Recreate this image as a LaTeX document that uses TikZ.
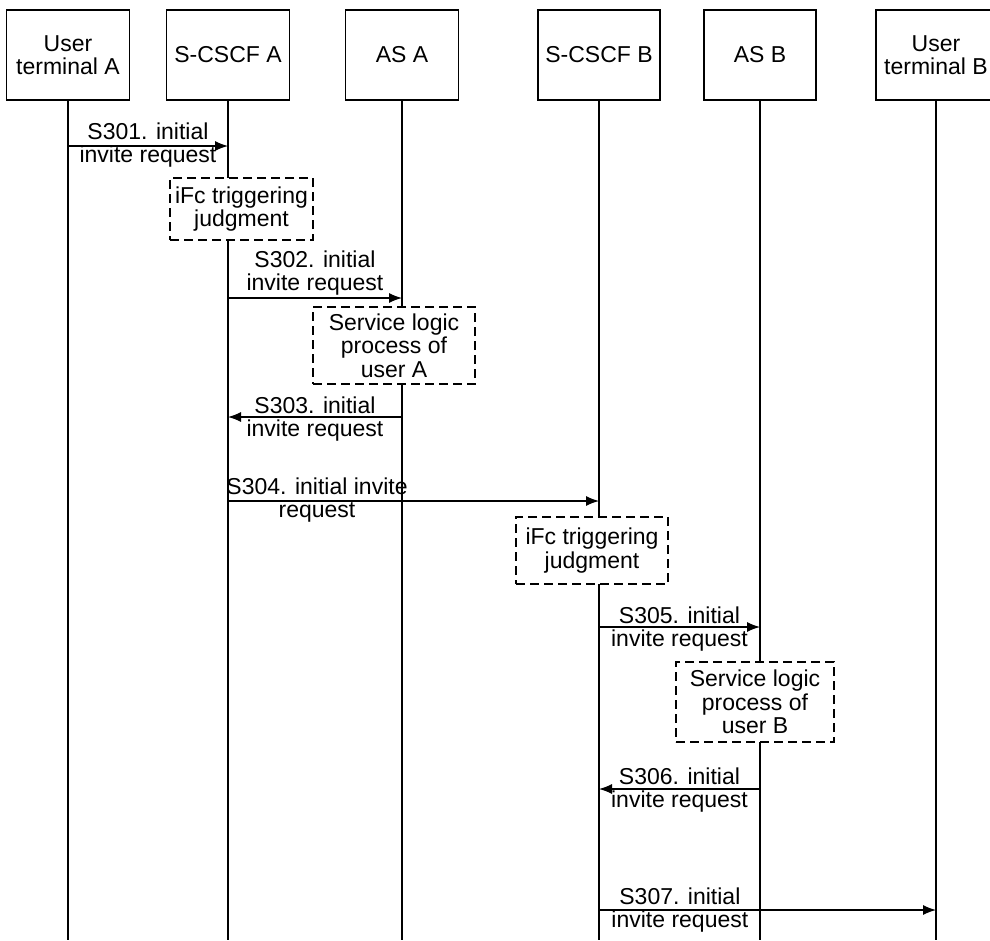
\documentclass[tikz,border=0pt]{standalone}
\usepackage{fontspec}
\setmainfont{Liberation Sans}
\usetikzlibrary{arrows.meta}

\begin{document}
\begin{tikzpicture}[
	x=1pt, y=-1pt,
  > = {Latex[length=13pt,width=10pt]},
  every node/.style = {font=\fontsize{23}{23.5}\selectfont},
  entity/.style = {draw,line width=1.4pt,minimum height=90pt,align=center,inner sep=1pt},
  judge/.style = {draw,fill=white,line width=1.2pt,dash pattern=on 9pt off 5pt,align=center,inner sep=1pt},
  life/.style = {line width=1.2pt},
  msg/.style = {->,line width=1.2pt},
  lbl/.style = {align=center,inner sep=0pt}
  ]
	\useasboundingbox (0,0) rectangle (990,940);

	\node[entity,minimum width=123pt] (uta) at (68,55) {User\\terminal A};
	\node[entity,minimum width=123pt] (scscfa) at (228,55) {S-CSCF A};
	\node[entity,minimum width=113pt] (asa) at (402,55) {AS A};
	\node[entity,minimum width=122pt] (scscfb) at (599,55) {S-CSCF B};
	\node[entity,minimum width=112pt] (asb) at (760,55) {AS B};
	\node[entity,minimum width=120pt] (utb) at (936,55) {User\\terminal B};

	\foreach \n in {uta,scscfa,asa,scscfb,asb,utb}
		\draw[life] (\n) -- (\n |- 0,940);

	\node[judge,minimum width=143pt,minimum height=62pt] (ifca) at (241.5,209) {iFc triggering\\judgment};
	\node[judge,minimum width=162pt,minimum height=77pt] (slpa) at (394,345.5) {Service logic\\process of\\user A};
	\node[judge,minimum width=152pt,minimum height=67pt] (ifcb) at (592,550.5) {iFc triggering\\judgment};
	\node[judge,minimum width=158pt,minimum height=80pt] (slpb) at (755,702) {Service logic\\process of\\user B};

	\draw[msg] (uta |- 0,146) -- (scscfa |- 0,146) node[lbl,midway,yshift=1pt] {S301. initial\\invite request};
	\draw[msg] (scscfa |- 0,298) -- (asa |- 0,298) node[lbl,midway,yshift=25pt] {S302. initial\\invite request};
	\draw[msg] (asa |- 0,417) -- (scscfa |- 0,417) node[lbl,midway,yshift=-2pt] {S303. initial\\invite request};
	\draw[msg] (scscfa |- 0,501) -- (scscfb |- 0,501) node[lbl,pos=0.24,yshift=1pt] {S304. initial invite\\request};
	\draw[msg] (scscfb |- 0,627) -- (asb |- 0,627) node[lbl,midway,yshift=-2pt] {S305. initial\\invite request};
	\draw[msg] (asb |- 0,789) -- (scscfb |- 0,789) node[lbl,midway,yshift=-1pt] {S306. initial\\invite request};
	\draw[msg] (scscfb |- 0,910) -- (utb |- 0,910) node[lbl,pos=0.24] {S307. initial\\invite request};

\end{tikzpicture}
\end{document}
